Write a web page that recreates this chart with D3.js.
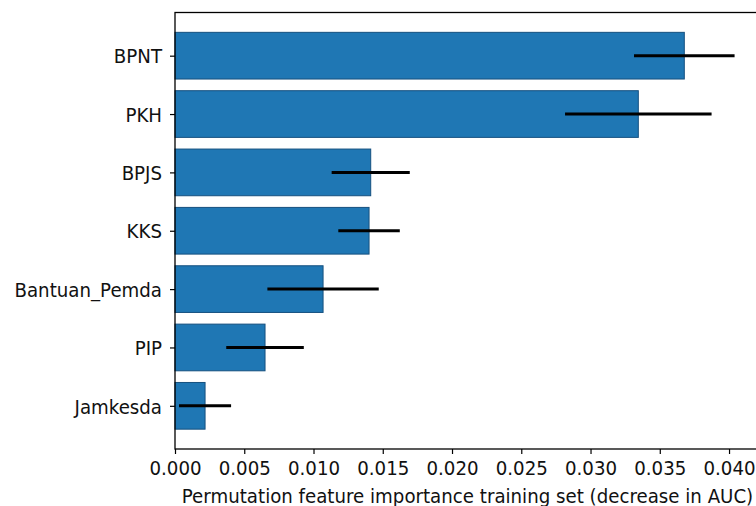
<!DOCTYPE html>
<html>
<head>
<meta charset="utf-8">
<script src="https://cdn.jsdelivr.net/npm/d3@7"></script>
<style>
  body { margin: 0; background: #fff; }
  svg { display: block; font-family: "DejaVu Sans", sans-serif; }
</style>
</head>
<body>
<svg width="756" height="506"></svg>
<script>
var features = ["BPNT", "PKH", "BPJS", "KKS", "Bantuan_Pemda", "PIP", "Jamkesda"];
var importance = [0.03677, 0.03345, 0.01413, 0.01401, 0.01069, 0.0065, 0.00217];
var errors = [0.00363, 0.00529, 0.00282, 0.00222, 0.00402, 0.0028, 0.00188];
var xTicks = [0, 0.005, 0.01, 0.015, 0.02, 0.025, 0.03, 0.035, 0.04];
var xLabel = "Permutation feature importance training set (decrease in AUC)";

var svg = d3.select("svg"),
    margin = {top: 12.5, left: 175},
    width = 587,
    height = 436.5,
    sx = 0.91; // text in the picture is a bit narrow for its height

var n = features.length;
var data = features.map(function(f, i) {
  return {name: f, value: importance[i], err: errors[i], pos: n - 1 - i};
});

var x = d3.scaleLinear().domain([0, 0.04238]).range([0, width]);
var y = d3.scaleLinear().domain([-0.74, n - 1 + 0.74]).range([height, 0]);

var g = svg.append("g")
    .attr("transform", "translate(" + margin.left + "," + margin.top + ")");

g.selectAll(".bar")
  .data(data)
  .enter().append("rect")
    .attr("class", "bar")
    .attr("x", x(0))
    .attr("y", function(d) { return y(d.pos + 0.4); })
    .attr("width", function(d) { return x(d.value) - x(0); })
    .attr("height", function(d) { return y(d.pos - 0.4) - y(d.pos + 0.4); })
    .attr("fill", "#1f77b4")
    .attr("stroke", "#15507f")
    .attr("stroke-width", 1);

g.selectAll(".err")
  .data(data)
  .enter().append("line")
    .attr("class", "err")
    .attr("x1", function(d) { return x(d.value - d.err); })
    .attr("x2", function(d) { return x(d.value + d.err); })
    .attr("y1", function(d) { return y(d.pos); })
    .attr("y2", function(d) { return y(d.pos); })
    .attr("stroke", "#000")
    .attr("stroke-width", 3);

var xAxis = g.append("g")
    .attr("transform", "translate(0," + height + ")")
    .call(d3.axisBottom(x).tickValues(xTicks).tickFormat(d3.format(".3f"))
      .tickSize(5).tickPadding(4).tickSizeOuter(0));

var yAxis = g.append("g")
    .call(d3.axisLeft(y).tickValues(data.map(function(d) { return d.pos; }))
      .tickFormat(function(p) { return features[n - 1 - p]; })
      .tickSize(5).tickSizeOuter(0));

[xAxis, yAxis].forEach(function(a) {
  a.select(".domain").remove();
  a.selectAll(".tick line").attr("stroke", "#000").attr("stroke-width", 1.2);
  a.selectAll(".tick text")
      .attr("fill", "#111")
      .style("font-size", "20px")
      .style("font-family", "DejaVu Sans");
});

xAxis.selectAll(".tick text")
    .attr("transform", "scale(" + sx + ",1)")
    .attr("y", 12)
    .attr("dy", "0.71em");

yAxis.selectAll(".tick text")
    .attr("transform", "scale(" + sx + ",1)")
    .attr("x", -13 / sx)
    .attr("dy", "0.36em");

// spines
g.append("rect")
    .attr("x", 0).attr("y", 0)
    .attr("width", width).attr("height", height)
    .attr("fill", "none")
    .attr("stroke", "#000")
    .attr("stroke-width", 1.3);

g.append("text")
    .attr("transform", "translate(" + (width / 2 - 1) + "," + (height + 54) + ") scale(" + sx + ",1)")
    .attr("text-anchor", "middle")
    .attr("fill", "#111")
    .style("font-size", "20px")
    .text(xLabel);
</script>
</body>
</html>
